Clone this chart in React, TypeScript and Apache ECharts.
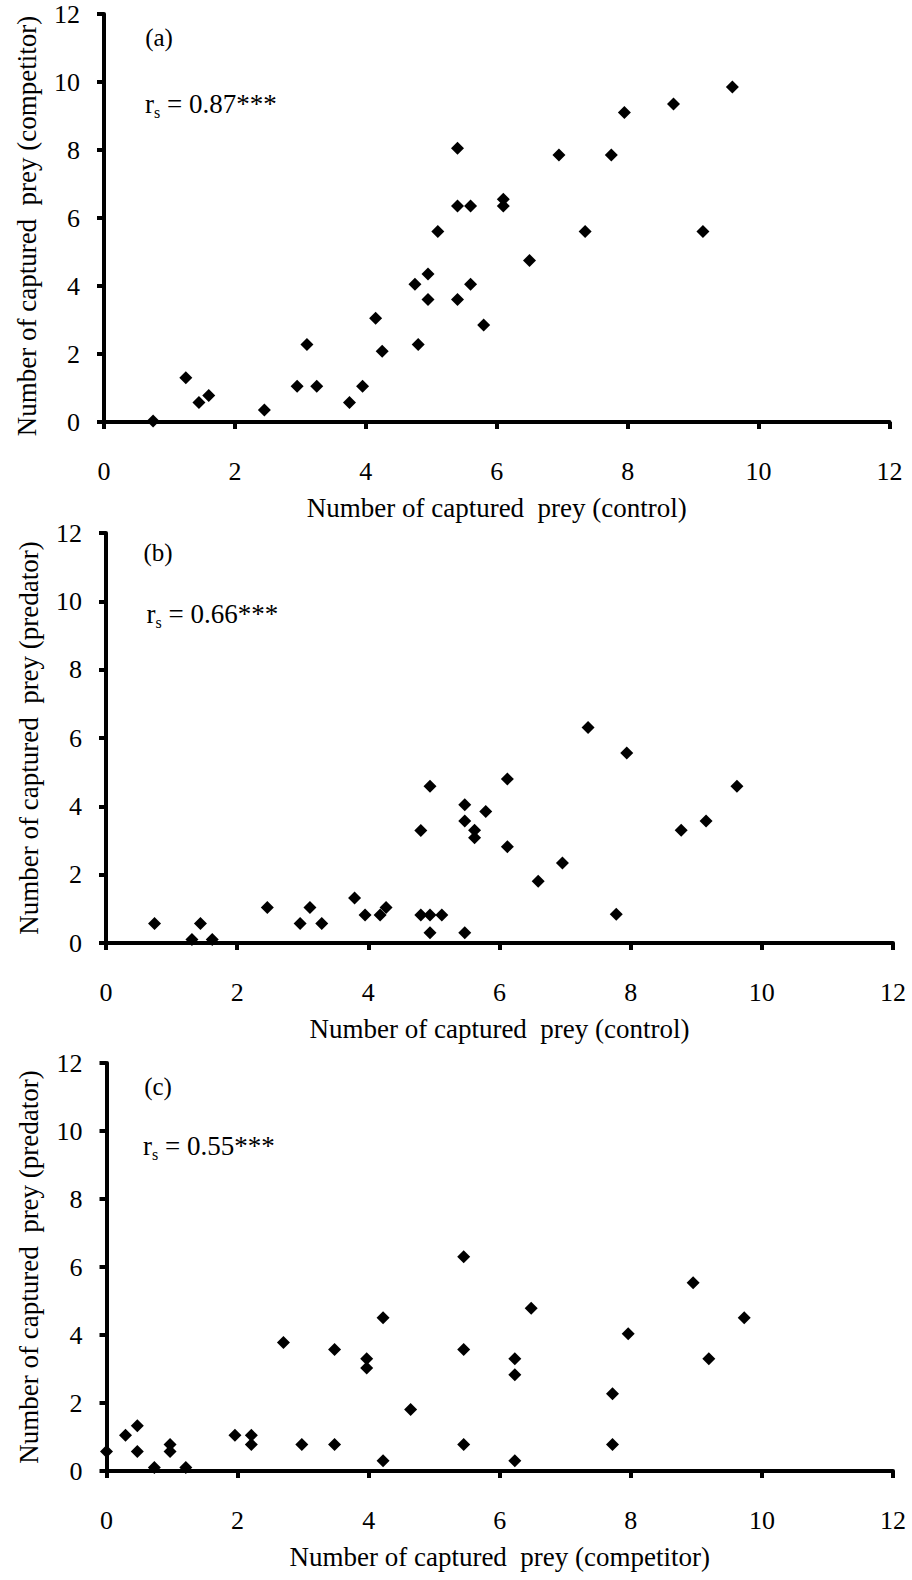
import React, { useEffect, useRef } from "react";
import * as echarts from "echarts";

// Panel (a): control (x) vs competitor (y)
const aX = [0.75, 1.25, 1.45, 1.6, 2.45, 2.95, 3.1, 3.25, 3.75, 3.95, 4.15, 4.25, 4.75, 4.8, 4.95, 4.95, 5.1, 5.4, 5.4, 5.4, 5.6, 5.6, 5.8, 6.1, 6.1, 6.5, 6.95, 7.35, 7.75, 7.95, 8.7, 9.15, 9.6];
const aY = [0.03, 1.3, 0.57, 0.78, 0.35, 1.05, 2.28, 1.05, 0.57, 1.05, 3.05, 2.08, 4.05, 2.28, 4.35, 3.6, 5.6, 8.05, 6.35, 3.6, 6.35, 4.05, 2.85, 6.55, 6.35, 4.75, 7.85, 5.6, 7.85, 9.1, 9.35, 5.6, 9.85];

// Panel (b): control (x) vs predator (y)
const bX = [0.74, 1.31, 1.44, 1.62, 2.46, 2.96, 3.11, 3.29, 3.79, 3.95, 4.18, 4.27, 4.8, 4.8, 4.94, 4.94, 4.94, 5.12, 5.47, 5.47, 5.47, 5.62, 5.62, 5.79, 6.12, 6.12, 6.59, 6.96, 7.35, 7.78, 7.94, 8.77, 9.15, 9.62];
const bY = [0.57, 0.1, 0.57, 0.1, 1.04, 0.57, 1.04, 0.57, 1.32, 0.82, 0.82, 1.04, 3.29, 0.82, 4.59, 0.82, 0.3, 0.82, 4.05, 3.57, 0.3, 3.3, 3.08, 3.85, 4.8, 2.82, 1.81, 2.34, 6.31, 0.84, 5.56, 3.3, 3.57, 4.59];

// Panel (c): competitor (x) vs predator (y)
const cX = [0, 0.29, 0.47, 0.47, 0.73, 0.97, 0.97, 1.21, 1.96, 2.21, 2.21, 2.7, 2.98, 3.48, 3.48, 3.97, 3.97, 4.22, 4.22, 4.64, 5.45, 5.45, 5.45, 6.23, 6.23, 6.23, 6.48, 7.72, 7.72, 7.96, 8.95, 9.19, 9.73];
const cY = [0.57, 1.05, 1.33, 0.57, 0.1, 0.78, 0.57, 0.1, 1.05, 1.05, 0.78, 3.78, 0.78, 3.57, 0.78, 3.3, 3.03, 4.51, 0.3, 1.81, 6.3, 3.57, 0.78, 3.3, 2.83, 0.3, 4.79, 2.27, 0.78, 4.04, 5.54, 3.3, 4.51];

const panelLabels = ["(a)", "(b)", "(c)"];
const corrValues = ["0.87***", "0.66***", "0.55***"];
const xNames = [
  "Number of captured  prey (control)",
  "Number of captured  prey (control)",
  "Number of captured  prey (competitor)",
];
const yNames = [
  "Number of captured  prey (competitor)",
  "Number of captured  prey (predator)",
  "Number of captured  prey (predator)",
];
const axisTicks = [0, 2, 4, 6, 8, 10, 12];

const FONT = "'Liberation Serif', 'Times New Roman', Times, serif";

const zip = (xs: number[], ys: number[]) => xs.map((x, i) => [x, ys[i]]);

export default function App() {
  const ref = useRef<HTMLDivElement>(null);

  useEffect(() => {
    if (!ref.current) return;
    const chart = echarts.init(ref.current, undefined, { renderer: "svg" });

    const grids = [
      { left: 104, right: 22.5, top: 14, height: 408 },
      { left: 106, right: 19, top: 533, height: 410 },
      { left: 106.5, right: 19, top: 1063, height: 408 },
    ];

    const xAxis = grids.map((_, i) => ({
      gridIndex: i,
      type: "value",
      min: axisTicks[0],
      max: axisTicks[axisTicks.length - 1],
      interval: axisTicks[1] - axisTicks[0],
      name: xNames[i],
      nameLocation: "middle",
      nameGap: 72,
      nameTextStyle: { fontFamily: FONT, fontSize: 27, color: "#000" },
      axisLine: { show: true, onZero: false, lineStyle: { color: "#000", width: 4 } },
      axisTick: { show: true, length: 7, lineStyle: { color: "#000", width: 4 } },
      axisLabel: { fontFamily: FONT, fontSize: 26, color: "#000", margin: 36 },
      splitLine: { show: false },
    }));

    const yAxis = grids.map((_, i) => ({
      gridIndex: i,
      type: "value",
      min: axisTicks[0],
      max: axisTicks[axisTicks.length - 1],
      interval: axisTicks[1] - axisTicks[0],
      name: yNames[i],
      nameLocation: "middle",
      nameGap: 64,
      nameTextStyle: {
        fontFamily: FONT,
        fontSize: 27,
        color: "#000",
        padding: i === 0 ? [0, 16, 0, 0] : 0,
      },
      axisLine: { show: true, onZero: false, lineStyle: { color: "#000", width: 4 } },
      axisTick: { show: true, length: 7, lineStyle: { color: "#000", width: 4 } },
      axisLabel: {
        fontFamily: FONT,
        fontSize: 26,
        color: "#000",
        margin: 24,
        padding: [14, 0, 0, 0],
      },
      splitLine: { show: false },
    }));

    const datasets = [zip(aX, aY), zip(bX, bY), zip(cX, cY)];
    const series = datasets.map((d, i) => ({
      type: "scatter",
      xAxisIndex: i,
      yAxisIndex: i,
      data: d,
      symbol: "diamond",
      symbolSize: [13, 13],
      itemStyle: { color: "#000", opacity: 1 },
      clip: false,
      z: 3,
    }));

    const labelPos = [
      { x: 159, y: 37.5 },
      { x: 158, y: 552.5 },
      { x: 158, y: 1086 },
    ];
    const corrPos = [
      { x: 145, y: 104 },
      { x: 146.5, y: 614 },
      { x: 143, y: 1146 },
    ];

    const graphic: any[] = [];
    panelLabels.forEach((t, i) => {
      graphic.push({
        type: "text",
        x: labelPos[i].x,
        y: labelPos[i].y,
        style: {
          text: t,
          fontFamily: FONT,
          fontSize: 25,
          fill: "#000",
          align: "center",
          verticalAlign: "middle",
        },
      });
      graphic.push({
        type: "text",
        x: corrPos[i].x,
        y: corrPos[i].y,
        style: {
          text: `{r|r}{s|s}{t| = ${corrValues[i]}}`,
          fontFamily: FONT,
          fill: "#000",
          align: "left",
          verticalAlign: "middle",
          rich: {
            r: { fontFamily: FONT, fontSize: 27, lineHeight: 32, verticalAlign: "middle", fill: "#000" },
            s: { fontFamily: FONT, fontSize: 16, lineHeight: 12, verticalAlign: "bottom", fill: "#000" },
            t: { fontFamily: FONT, fontSize: 27, lineHeight: 32, verticalAlign: "middle", fill: "#000" },
          },
        },
      });
    });

    chart.setOption({
      animation: false,
      backgroundColor: "#fff",
      grid: grids,
      xAxis,
      yAxis,
      series,
      graphic,
    } as any);

    return () => chart.dispose();
  }, []);

  return (
    <div
      ref={ref}
      style={{ position: "absolute", left: 0, top: 0, width: 912, height: 1580, background: "#fff" }}
    />
  );
}
